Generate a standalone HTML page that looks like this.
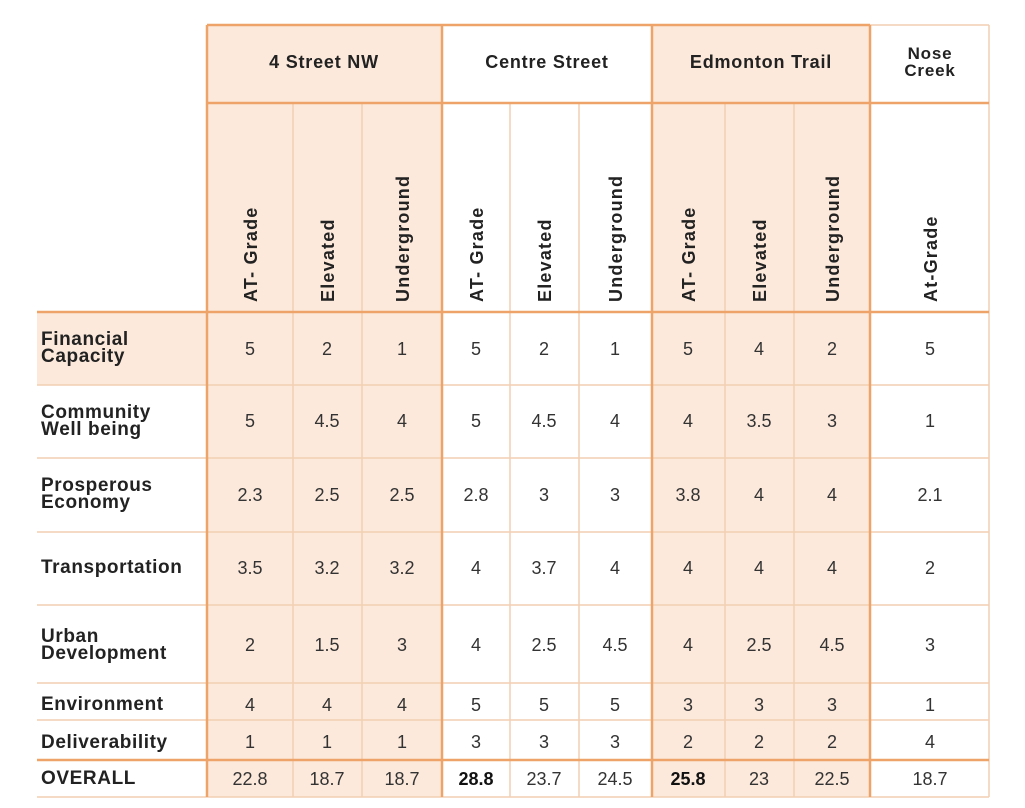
<!DOCTYPE html>
<html><head><meta charset="utf-8"><style>body{margin:0;background:#fff}svg{display:block}</style></head><body>
<svg width="1025" height="808" xmlns="http://www.w3.org/2000/svg" font-family="Liberation Sans, sans-serif">
<rect x="0" y="0" width="1025" height="808" fill="#fff"/>
<rect x="207" y="25" width="235" height="772" fill="#fce9db"/>
<rect x="652" y="25" width="218" height="772" fill="#fce9db"/>
<rect x="37" y="312" width="170" height="73" fill="#fce9db"/>
<g stroke="#f2cfb2" stroke-width="1.5">
<line x1="293" y1="103" x2="293" y2="797"/><line x1="362" y1="103" x2="362" y2="797"/>
<line x1="510" y1="103" x2="510" y2="797"/><line x1="579" y1="103" x2="579" y2="797"/>
<line x1="725" y1="103" x2="725" y2="797"/><line x1="794" y1="103" x2="794" y2="797"/>
<line x1="989" y1="25" x2="989" y2="797"/>
<line x1="37" y1="385" x2="989" y2="385"/><line x1="37" y1="458" x2="989" y2="458"/>
<line x1="37" y1="532" x2="989" y2="532"/><line x1="37" y1="605" x2="989" y2="605"/>
<line x1="37" y1="683" x2="989" y2="683"/><line x1="37" y1="720" x2="989" y2="720"/>
<line x1="37" y1="797" x2="989" y2="797"/>
<line x1="870" y1="25" x2="989" y2="25"/>
</g>
<g stroke="#eea468" stroke-width="2.5">
<line x1="207" y1="25" x2="870" y2="25"/>
<line x1="207" y1="103" x2="989" y2="103"/>
<line x1="37" y1="312" x2="989" y2="312"/>
<line x1="37" y1="760" x2="989" y2="760"/>
<line x1="207" y1="25" x2="207" y2="797"/><line x1="442" y1="25" x2="442" y2="797"/>
<line x1="652" y1="25" x2="652" y2="797"/><line x1="870" y1="25" x2="870" y2="797"/>
</g>
<g font-weight="bold" font-size="18" fill="#222" text-anchor="middle" letter-spacing="0.8">
<text x="324" y="68">4 Street NW</text>
<text x="547" y="68">Centre Street</text>
<text x="761" y="68">Edmonton Trail</text>
<text x="930" y="59" font-size="17">Nose</text>
<text x="930" y="76" font-size="17">Creek</text>
</g>
<g font-weight="bold" font-size="18" fill="#222" letter-spacing="1.2">
<text transform="translate(257,302) rotate(-90)">AT- Grade</text>
<text transform="translate(334,302) rotate(-90)">Elevated</text>
<text transform="translate(409,302) rotate(-90)">Underground</text>
<text transform="translate(483,302) rotate(-90)">AT- Grade</text>
<text transform="translate(551,302) rotate(-90)">Elevated</text>
<text transform="translate(622,302) rotate(-90)">Underground</text>
<text transform="translate(695,302) rotate(-90)">AT- Grade</text>
<text transform="translate(766,302) rotate(-90)">Elevated</text>
<text transform="translate(839,302) rotate(-90)">Underground</text>
<text transform="translate(937,302) rotate(-90)">At-Grade</text>
</g>
<g font-weight="bold" font-size="19" fill="#222" letter-spacing="0.6">
<text x="41" y="345">Financial</text><text x="41" y="362">Capacity</text>
<text x="41" y="418">Community</text><text x="41" y="435">Well being</text>
<text x="41" y="491">Prosperous</text><text x="41" y="508">Economy</text>
<text x="41" y="573">Transportation</text>
<text x="41" y="642">Urban</text><text x="41" y="659">Development</text>
<text x="41" y="710">Environment</text>
<text x="41" y="748">Deliverability</text>
<text x="41" y="784">OVERALL</text>
</g>
<g font-size="18" fill="#333" text-anchor="middle">
<g transform="translate(0,355)"><text x="250">5</text><text x="327">2</text><text x="402">1</text><text x="476">5</text><text x="544">2</text><text x="615">1</text><text x="688">5</text><text x="759">4</text><text x="832">2</text><text x="930">5</text></g>
<g transform="translate(0,427)"><text x="250">5</text><text x="327">4.5</text><text x="402">4</text><text x="476">5</text><text x="544">4.5</text><text x="615">4</text><text x="688">4</text><text x="759">3.5</text><text x="832">3</text><text x="930">1</text></g>
<g transform="translate(0,501)"><text x="250">2.3</text><text x="327">2.5</text><text x="402">2.5</text><text x="476">2.8</text><text x="544">3</text><text x="615">3</text><text x="688">3.8</text><text x="759">4</text><text x="832">4</text><text x="930">2.1</text></g>
<g transform="translate(0,574)"><text x="250">3.5</text><text x="327">3.2</text><text x="402">3.2</text><text x="476">4</text><text x="544">3.7</text><text x="615">4</text><text x="688">4</text><text x="759">4</text><text x="832">4</text><text x="930">2</text></g>
<g transform="translate(0,651)"><text x="250">2</text><text x="327">1.5</text><text x="402">3</text><text x="476">4</text><text x="544">2.5</text><text x="615">4.5</text><text x="688">4</text><text x="759">2.5</text><text x="832">4.5</text><text x="930">3</text></g>
<g transform="translate(0,711)"><text x="250">4</text><text x="327">4</text><text x="402">4</text><text x="476">5</text><text x="544">5</text><text x="615">5</text><text x="688">3</text><text x="759">3</text><text x="832">3</text><text x="930">1</text></g>
<g transform="translate(0,748)"><text x="250">1</text><text x="327">1</text><text x="402">1</text><text x="476">3</text><text x="544">3</text><text x="615">3</text><text x="688">2</text><text x="759">2</text><text x="832">2</text><text x="930">4</text></g>
<g transform="translate(0,785)"><text x="250">22.8</text><text x="327">18.7</text><text x="402">18.7</text><text x="476" font-weight="bold" fill="#111">28.8</text><text x="544">23.7</text><text x="615">24.5</text><text x="688" font-weight="bold" fill="#111">25.8</text><text x="759">23</text><text x="832">22.5</text><text x="930">18.7</text></g>
</g>
</svg>
</body></html>
